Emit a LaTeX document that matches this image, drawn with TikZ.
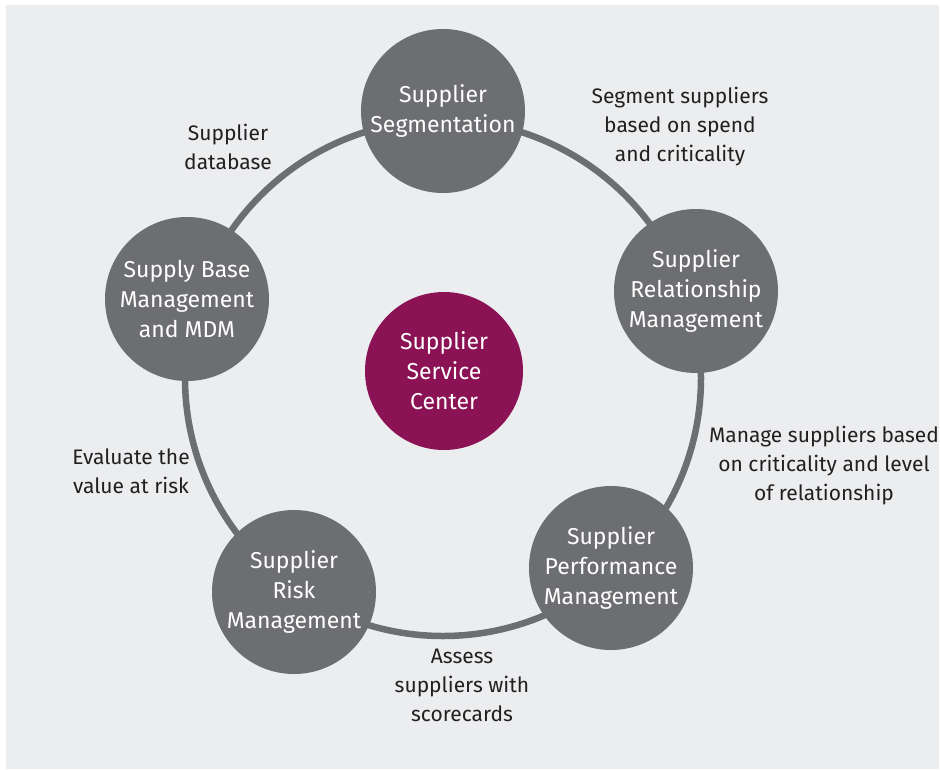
\documentclass[tikz,border=0pt]{standalone}
\usepackage{fontspec}
\setmainfont{Fira Sans}
\definecolor{ringgrey}{HTML}{6D6E71}
\definecolor{hubred}{HTML}{8B1254}
\definecolor{panel}{HTML}{ECEDEF}
\definecolor{notetext}{HTML}{231F20}
\tikzset{
  stage/.style={circle, fill=ringgrey, text=white, minimum size=164pt, inner sep=0pt, align=center, font=\fontsize{23}{30}\selectfont},
  note/.style={align=center, text=notetext, font=\fontsize{21}{29}\selectfont},
}
\begin{document}
\begin{tikzpicture}[x=1pt,y=-1pt]
    \useasboundingbox (0,0) rectangle (940,769);
    \fill[panel] (6,5) rectangle (939,769);
    % ring behind the stages
    \coordinate (hub) at (443,378);
    \draw[ringgrey, line width=6.5pt] (hub) circle (258pt);
    \node[stage] (seg) at (443,111) {Supplier\\Segmentation};
    \node[stage] (srm) at (696,291) {Supplier\\Relationship\\Management};
    \node[stage] (spm) at (611,568) {Supplier\\Performance\\Management};
    \node[stage] (risk) at (294,592) {Supplier\\Risk\\Management};
    \node[stage] (sbm) at (187,299) {Supply Base\\Management\\and MDM};
    \node[stage, fill=hubred, minimum size=158pt] (ssc) at (444,371) {Supplier\\Service\\Center};
    % notes between the stages
    \node[note] (dbnote) at (228,147) {Supplier\\database};
    \node[note] (segnote) at (680,127) {Segment suppliers\\based on spend\\and criticality};
    \node[note] (mgnote) at (824,466) {Manage suppliers based\\on criticality and level\\of relationship};
    \node[note] (evnote) at (131,471) {Evaluate the\\value at risk};
    \node[note] (asnote) at (462,685) {Assess\\suppliers with\\scorecards};
\end{tikzpicture}
\end{document}
